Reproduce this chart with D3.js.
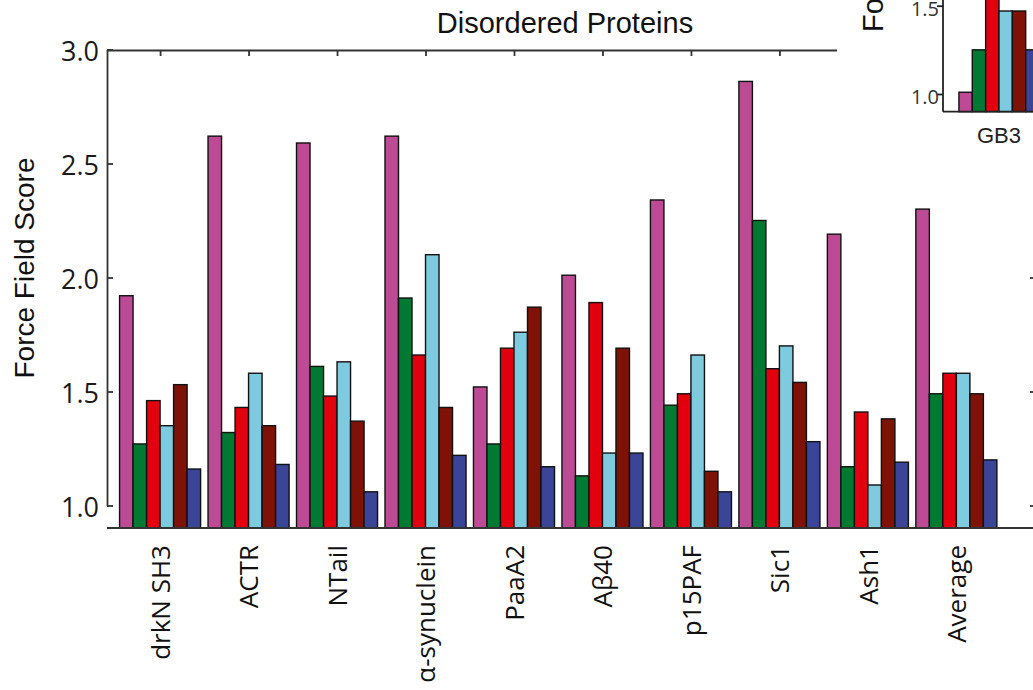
<!DOCTYPE html>
<html>
<head>
<meta charset="utf-8">
<script src="https://cdn.jsdelivr.net/npm/d3@7"></script>
<style>
  body { margin: 0; background: #fff; }
  svg { display: block; }
</style>
</head>
<body>
<svg id="chart" width="1033" height="690"></svg>
<script>
// proteins on the x axis
var categories = ["drkN SH3", "ACTR", "NTail", "α-synuclein", "PaaA2", "Aβ40", "p15PAF", "Sic1", "Ash1", "Average"];

// one array per force field (legend not in view, named by colour)
var magenta = [1.92, 2.62, 2.59, 2.62, 1.52, 2.01, 2.34, 2.86, 2.19, 2.30];
var green   = [1.27, 1.32, 1.61, 1.91, 1.27, 1.13, 1.44, 2.25, 1.17, 1.49];
var red     = [1.46, 1.43, 1.48, 1.66, 1.69, 1.89, 1.49, 1.60, 1.41, 1.58];
var cyan    = [1.35, 1.58, 1.63, 2.10, 1.76, 1.23, 1.66, 1.70, 1.09, 1.58];
var maroon  = [1.53, 1.35, 1.37, 1.43, 1.87, 1.69, 1.15, 1.54, 1.38, 1.49];
var navy    = [1.16, 1.18, 1.06, 1.22, 1.17, 1.23, 1.06, 1.28, 1.19, 1.20];

var seriesNames = ["magenta", "green", "red", "cyan", "maroon", "navy"];
var seriesColors = ["#bd4a95", "#007a33", "#e2000f", "#7ecbdf", "#7e1206", "#3a4597"];
var yTicks = [1.0, 1.5, 2.0, 2.5, 3.0];

// neighbouring panel (folded proteins), only partly in view
var insetCategories = ["GB3"];
var gb3 = [1.01, 1.25, 1.60, 1.47, 1.47, 1.25];
var insetTicks = [1.0, 1.5, 2.0];

var series = [magenta, green, red, cyan, maroon, navy];

var svg = d3.select("#chart");
var tickFont = "'Open Sans', sans-serif";
var labelFont = "'Liberation Sans', Arial, sans-serif";

// ---------- main panel ----------
// (plotTop, not "top": window.top is read-only)
var plotLeft = 107, plotRight = 1036, plotTop = 50, plotBottom = 528;

var x = d3.scaleLinear().domain([0.4, 10.9]).range([plotLeft, plotRight]);
var inner = d3.scaleBand().domain(seriesNames).range([-0.458, 0.458]);
var y = d3.scaleLinear().domain([1.0, 3.0]).range([505.5, 49.5]);

var main = svg.append("g");

var groups = main.selectAll("g.group")
    .data(categories)
    .enter()
    .append("g")
    .attr("class", "group");

groups.selectAll("rect")
    .data(function(d, i) {
        return series.map(function(s, k) { return {pos: i + 1, key: seriesNames[k], value: s[i], color: seriesColors[k]}; });
    })
    .enter()
    .append("rect")
    .attr("x", function(d) { return x(d.pos + inner(d.key)); })
    .attr("width", function(d) { return x(d.pos + inner(d.key) + inner.bandwidth()) - x(d.pos + inner(d.key)); })
    .attr("y", function(d) { return y(d.value); })
    .attr("height", function(d) { return y(0.9) - y(d.value); })
    .attr("fill", function(d) { return d.color; })
    .attr("stroke", "#111")
    .attr("stroke-width", 1.4);

// axes
var leftAxis = d3.axisRight(y).tickValues(yTicks).tickSize(6).tickSizeOuter(0).tickFormat("");
main.append("g").attr("transform", "translate(" + plotLeft + ",0)").call(leftAxis);

var rightAxis = d3.axisLeft(y).tickValues(yTicks).tickSize(6).tickSizeOuter(0).tickFormat("");
main.append("g").attr("transform", "translate(" + plotRight + ",0)").call(rightAxis);

var topAxis = d3.axisBottom(x).tickValues(d3.range(1, categories.length + 1)).tickSize(6).tickSizeOuter(0).tickFormat("");
main.append("g").attr("transform", "translate(0," + plotTop + ")").call(topAxis);

main.append("line").attr("x1", plotLeft).attr("x2", plotRight).attr("y1", plotBottom).attr("y2", plotBottom);

main.selectAll(".domain, .tick line, line")
    .attr("stroke", "#333")
    .attr("stroke-width", 1.8);

// y tick labels
main.selectAll("text.ylab")
    .data(yTicks)
    .enter()
    .append("text")
    .attr("class", "ylab")
    .attr("x", 99)
    .attr("y", function(d) { return y(d) + 2; })
    .attr("dy", "0.36em")
    .attr("text-anchor", "end")
    .style("font-family", tickFont)
    .style("font-size", "27px")
    .attr("fill", "#1a1a1a")
    .text(function(d) { return d.toFixed(1); });

// category labels
main.selectAll("text.xlab")
    .data(categories)
    .enter()
    .append("text")
    .attr("class", "xlab")
    .attr("transform", function(d, i) { return "translate(" + x(i + 1) + ",545) rotate(-90)"; })
    .attr("dy", "0.38em")
    .attr("text-anchor", "end")
    .style("font-family", tickFont)
    .style("font-size", "26px")
    .attr("fill", "#111")
    .text(function(d) { return d; });

main.append("text")
    .attr("transform", "translate(34,268) rotate(-90)")
    .attr("text-anchor", "middle")
    .style("font-family", labelFont)
    .style("font-size", "28px")
    .attr("fill", "#111")
    .text("Force Field Score");

main.append("text")
    .attr("x", 565)
    .attr("y", 33)
    .attr("text-anchor", "middle")
    .style("font-family", labelFont)
    .style("font-size", "29px")
    .attr("fill", "#111")
    .text("Disordered Proteins");

// ---------- inset panel (cut by the page edge) ----------
var inset = svg.append("g");
inset.append("rect")
    .attr("x", 837).attr("y", 0)
    .attr("width", 200).attr("height", 170)
    .attr("fill", "#fff");

var xIn = d3.scaleLinear().domain([0.36, 1]).range([943, 999]);
var yIn = d3.scaleLinear().domain([1.0, 1.5]).range([94, 5.7]);

inset.selectAll("rect.bar")
    .data(gb3)
    .enter()
    .append("rect")
    .attr("class", "bar")
    .attr("x", function(d, i) { return xIn(1 + inner(seriesNames[i])); })
    .attr("width", xIn(1 + inner.bandwidth()) - xIn(1))
    .attr("y", function(d) { return yIn(d); })
    .attr("height", function(d) { return yIn(0.9) - yIn(d); })
    .attr("fill", function(d, i) { return seriesColors[i]; })
    .attr("stroke", "#111")
    .attr("stroke-width", 1.4);

var inLeft = d3.axisLeft(yIn).tickValues(insetTicks).tickSize(6).tickFormat("");
inset.append("g").attr("transform", "translate(943,0)").call(inLeft);
inset.append("line").attr("x1", 943).attr("x2", 1040).attr("y1", yIn(0.9)).attr("y2", yIn(0.9));
inset.selectAll(".domain, .tick line, line")
    .attr("stroke", "#222")
    .attr("stroke-width", 1.8);
inset.selectAll(".domain").attr("d", "M0,-10V" + yIn(0.9));

inset.selectAll("text.ilab")
    .data(insetTicks)
    .enter()
    .append("text")
    .attr("class", "ilab")
    .attr("x", 939)
    .attr("y", function(d) { return yIn(d) + 3; })
    .attr("dy", "0.36em")
    .attr("text-anchor", "end")
    .style("font-family", tickFont)
    .style("font-size", "20px")
    .attr("fill", "#333")
    .text(function(d) { return d.toFixed(1); });

inset.selectAll("text.icat")
    .data(insetCategories)
    .enter()
    .append("text")
    .attr("class", "icat")
    .attr("x", function(d, i) { return xIn(i + 1); })
    .attr("y", 143)
    .attr("text-anchor", "middle")
    .style("font-family", labelFont)
    .style("font-size", "22px")
    .attr("fill", "#222")
    .text(function(d) { return d; });

inset.append("text")
    .attr("transform", "translate(883,32) rotate(-90)")
    .attr("text-anchor", "start")
    .style("font-family", labelFont)
    .style("font-size", "29px")
    .attr("fill", "#111")
    .text("Force Field Score");
</script>
</body>
</html>
